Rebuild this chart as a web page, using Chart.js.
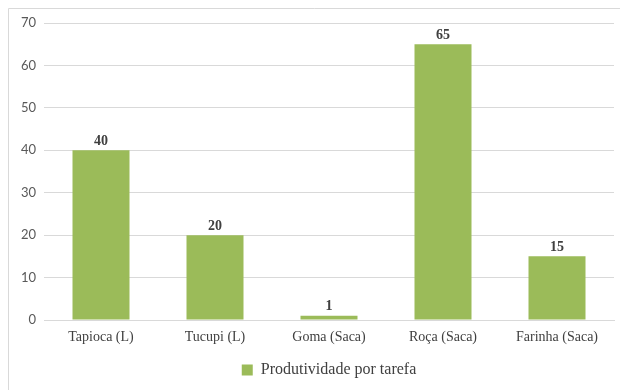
<!DOCTYPE html>
<html>
<head>
<meta charset="utf-8">
<script src="https://cdn.jsdelivr.net/npm/chart.js@4.4.1/dist/chart.umd.min.js"></script>
<style>
  html, body { margin: 0; padding: 0; background: #fff; }
  #wrap { width: 620px; height: 390px; position: relative; }
</style>
</head>
<body>
<div id="wrap"><canvas id="c" width="620" height="390"></canvas></div>
<script>
// Produtividade por tarefa
const categories = ['Tapioca (L)', 'Tucupi (L)', 'Goma (Saca)', 'Roça (Saca)', 'Farinha (Saca)'];
const productivity = [40, 20, 1, 65, 15];
const yTicks = [0, 10, 20, 30, 40, 50, 60, 70];
const seriesName = 'Produtividade por tarefa';

const GREEN = '#9BBB59';
const GRID = '#D9D9D9';
const SERIF = '"Liberation Serif", "Times New Roman", serif';

// Frame lines along the left and top edges
const framePlugin = {
  id: 'frame',
  beforeDraw(chart) {
    const ctx = chart.ctx;
    ctx.save();
    ctx.strokeStyle = '#D9D9D9';
    ctx.lineWidth = 1;
    ctx.beginPath();
    ctx.moveTo(8.5, 390);
    ctx.lineTo(8.5, 8.5);
    ctx.lineTo(620, 8.5);
    ctx.stroke();
    ctx.restore();
  }
};

// Legend sits centred under the plot area rather than the whole canvas
const legendShift = {
  id: 'legendShift',
  afterLayout(chart) {
    const lg = chart.legend;
    if (lg) { lg.left += 18; lg.right += 18; }
  }
};

// Value labels above each bar
const valueLabels = {
  id: 'valueLabels',
  afterDatasetsDraw(chart) {
    const ctx = chart.ctx;
    const meta = chart.getDatasetMeta(0);
    const data = chart.data.datasets[0].data;
    ctx.save();
    ctx.font = 'bold 14px ' + SERIF;
    ctx.fillStyle = '#404040';
    ctx.textAlign = 'center';
    ctx.textBaseline = 'bottom';
    meta.data.forEach((bar, i) => {
      ctx.fillText(String(data[i]), bar.x, bar.y - 2);
    });
    ctx.restore();
  }
};

new Chart(document.getElementById('c'), {
  type: 'bar',
  data: {
    labels: categories,
    datasets: [{
      label: seriesName,
      data: productivity,
      backgroundColor: GREEN,
      borderWidth: 0,
      categoryPercentage: 1.0,
      barPercentage: 0.5
    }]
  },
  options: {
    responsive: false,
    animation: false,
    layout: { padding: { left: 8, right: 6, top: 23, bottom: 2 } },
    scales: {
      x: {
        grid: { display: false, drawTicks: false },
        border: { display: true, color: GRID, width: 1 },
        ticks: {
          padding: 9,
          color: '#404040',
          font: { family: SERIF, size: 14 }
        },
        afterFit(scale) { scale.height = 32; }
      },
      y: {
        min: 0,
        max: 70,
        afterBuildTicks(scale) { scale.ticks = yTicks.map(v => ({ value: v })); },
        grid: { color: GRID, lineWidth: 1, drawTicks: false },
        border: { display: false },
        ticks: {
          padding: 8,
          color: '#595959',
          font: { family: 'Lato, "Liberation Sans", sans-serif', size: 13 }
        },
        afterFit(scale) { scale.width = 36; }
      }
    },
    plugins: {
      legend: {
        position: 'bottom',
        labels: {
          boxWidth: 11,
          boxHeight: 11,
          padding: 10,
          color: '#404040',
          font: { family: SERIF, size: 16 }
        }
      },
      tooltip: { enabled: false }
    }
  },
  plugins: [framePlugin, legendShift, valueLabels]
});
</script>
</body>
</html>
